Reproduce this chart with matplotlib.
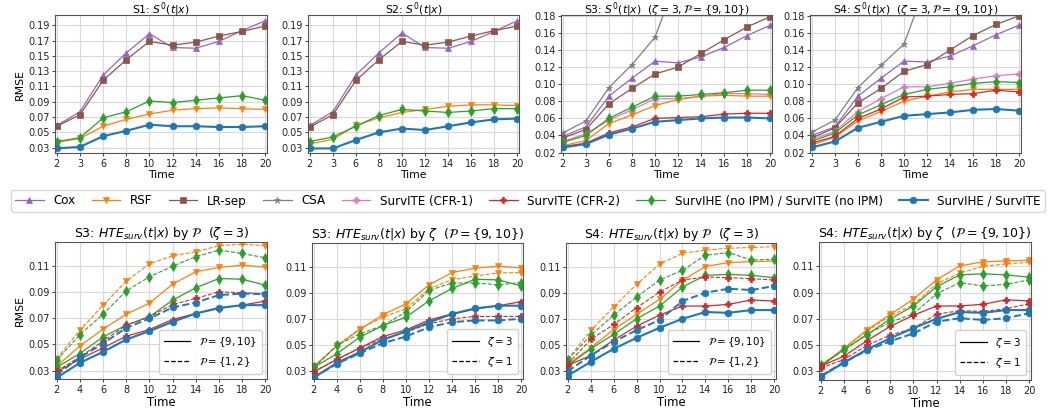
import matplotlib
matplotlib.use("Agg")
import matplotlib.pyplot as plt
from matplotlib.lines import Line2D

plt.rcParams['font.family'] = ['DejaVu Sans']
plt.rcParams['mathtext.fontset'] = 'dejavusans'

# ---------------- data ----------------
top_times = [2, 3, 6, 8, 10, 12, 14, 16, 18, 20]
bot_times = [2, 4, 6, 8, 10, 12, 14, 16, 18, 20]

methods = ["Cox", "RSF", "LR-sep", "CSA", "SurvITE (CFR-1)", "SurvITE (CFR-2)",
           "SurvIHE (no IPM) / SurvITE (no IPM)", "SurvIHE / SurvITE"]

# S1
s1_cox = [0.059, 0.077, 0.125, 0.154, 0.179, 0.161, 0.160, 0.169, 0.183, 0.196]
s1_rsf = [0.037, 0.042, 0.058, 0.067, 0.074, 0.079, 0.081, 0.082, 0.081, 0.080]
s1_lrsep = [0.058, 0.073, 0.118, 0.145, 0.169, 0.164, 0.168, 0.176, 0.182, 0.189]
s1_noipm = [0.038, 0.043, 0.069, 0.077, 0.091, 0.089, 0.092, 0.095, 0.098, 0.092]
s1_ours = [0.029, 0.031, 0.045, 0.052, 0.060, 0.058, 0.058, 0.057, 0.057, 0.058]

# S2
s2_cox = [0.059, 0.077, 0.125, 0.154, 0.180, 0.161, 0.160, 0.169, 0.182, 0.196]
s2_rsf = [0.035, 0.041, 0.059, 0.069, 0.076, 0.080, 0.084, 0.086, 0.086, 0.085]
s2_lrsep = [0.057, 0.073, 0.118, 0.145, 0.169, 0.164, 0.168, 0.176, 0.183, 0.189]
s2_noipm = [0.038, 0.044, 0.058, 0.072, 0.080, 0.078, 0.076, 0.078, 0.081, 0.081]
s2_ours = [0.029, 0.029, 0.040, 0.050, 0.055, 0.053, 0.058, 0.063, 0.067, 0.068]

# S3
s3_cox = [0.039, 0.050, 0.086, 0.107, 0.127, 0.125, 0.132, 0.143, 0.157, 0.169]
s3_rsf = [0.028, 0.034, 0.054, 0.064, 0.075, 0.082, 0.086, 0.087, 0.086, 0.086]
s3_lrsep = [0.037, 0.047, 0.077, 0.095, 0.112, 0.120, 0.136, 0.152, 0.167, 0.179]
s3_csa = [0.043, 0.057, 0.096, 0.123, 0.155, 0.227, 0.280, 0.320, 0.360, 0.400]
s3_cfr1 = [0.033, 0.042, 0.058, 0.070, 0.083, 0.083, 0.086, 0.089, 0.089, 0.088]
s3_cfr2 = [0.027, 0.031, 0.043, 0.050, 0.060, 0.061, 0.062, 0.065, 0.066, 0.066]
s3_noipm = [0.032, 0.040, 0.060, 0.073, 0.086, 0.086, 0.088, 0.090, 0.093, 0.093]
s3_ours = [0.026, 0.030, 0.041, 0.048, 0.056, 0.058, 0.060, 0.061, 0.061, 0.060]

# S4
s4_cox = [0.040, 0.050, 0.086, 0.107, 0.127, 0.126, 0.133, 0.145, 0.158, 0.169]
s4_rsf = [0.029, 0.038, 0.057, 0.068, 0.080, 0.086, 0.091, 0.094, 0.094, 0.094]
s4_lrsep = [0.037, 0.049, 0.078, 0.095, 0.115, 0.123, 0.140, 0.157, 0.170, 0.180]
s4_csa = [0.044, 0.058, 0.096, 0.122, 0.147, 0.220, 0.270, 0.310, 0.350, 0.390]
s4_cfr1 = [0.035, 0.045, 0.068, 0.083, 0.097, 0.097, 0.101, 0.106, 0.110, 0.112]
s4_cfr2 = [0.031, 0.039, 0.060, 0.071, 0.085, 0.086, 0.088, 0.089, 0.093, 0.091]
s4_noipm = [0.033, 0.043, 0.064, 0.076, 0.088, 0.094, 0.097, 0.101, 0.103, 0.102]
s4_ours = [0.026, 0.033, 0.049, 0.056, 0.063, 0.065, 0.067, 0.070, 0.071, 0.069]

# HTE, S3, zeta=3, P={9,10}
h3_rsf = [0.0333, 0.0489, 0.0617, 0.0732, 0.0816, 0.0962, 0.1057, 0.1090, 0.1107, 0.1092]
h3_noipm = [0.0325, 0.0430, 0.0558, 0.0648, 0.0712, 0.0839, 0.0934, 0.1005, 0.1000, 0.0954]
h3_cfr2 = [0.0290, 0.0387, 0.0474, 0.0563, 0.0614, 0.0691, 0.0737, 0.0775, 0.0801, 0.0832]
h3_ours = [0.0245, 0.0359, 0.0443, 0.0538, 0.0602, 0.0673, 0.0737, 0.0780, 0.0801, 0.0801]
# HTE, S3, zeta=3, P={1,2}
h3p_rsf = [0.0392, 0.0609, 0.0801, 0.0985, 0.1118, 0.1179, 0.1210, 0.1256, 0.1269, 0.1256]
h3p_noipm = [0.0379, 0.0576, 0.0732, 0.0911, 0.1018, 0.1100, 0.1172, 0.1223, 0.1197, 0.1164]
h3p_cfr2 = [0.0295, 0.0405, 0.0525, 0.0648, 0.0712, 0.0806, 0.0852, 0.0903, 0.0896, 0.0888]
h3p_ours = [0.0269, 0.0400, 0.0507, 0.0627, 0.0699, 0.0783, 0.0821, 0.0878, 0.0890, 0.0885]
# HTE, S3, zeta=1, P={9,10}
h3z_rsf = [0.0320, 0.0494, 0.0623, 0.0713, 0.0777, 0.0932, 0.1002, 0.1030, 0.1054, 0.1056]
h3z_noipm = [0.0326, 0.0494, 0.0584, 0.0648, 0.0752, 0.0919, 0.0976, 0.0976, 0.0963, 0.0979]
h3z_cfr2 = [0.0292, 0.0385, 0.0473, 0.0545, 0.0597, 0.0661, 0.0700, 0.0718, 0.0718, 0.0718]
h3z_ours = [0.0248, 0.0352, 0.0434, 0.0512, 0.0563, 0.0635, 0.0674, 0.0687, 0.0687, 0.0700]

# HTE, S4, zeta=3, P={9,10}
h4_rsf = [0.0346, 0.0475, 0.0617, 0.0734, 0.0850, 0.0997, 0.1103, 0.1134, 0.1141, 0.1146]
h4_noipm = [0.0339, 0.0468, 0.0579, 0.0700, 0.0798, 0.0945, 0.1035, 0.1043, 0.1035, 0.1017]
h4_cfr2 = [0.0340, 0.0416, 0.0535, 0.0643, 0.0728, 0.0798, 0.0798, 0.0811, 0.0845, 0.0837]
h4_ours = [0.0261, 0.0367, 0.0468, 0.0553, 0.0630, 0.0700, 0.0752, 0.0746, 0.0767, 0.0767]
# HTE, S4, zeta=3, P={1,2}
h4p_rsf = [0.0385, 0.0610, 0.0790, 0.0966, 0.1121, 0.1206, 0.1229, 0.1245, 0.1250, 0.1257]
h4p_noipm = [0.0385, 0.0571, 0.0728, 0.0868, 0.0999, 0.1074, 0.1190, 0.1211, 0.1154, 0.1159]
h4p_cfr2 = [0.0352, 0.0540, 0.0656, 0.0785, 0.0906, 0.0999, 0.1023, 0.1017, 0.1010, 0.0999]
h4p_ours = [0.0295, 0.0416, 0.0522, 0.0612, 0.0690, 0.0837, 0.0901, 0.0932, 0.0922, 0.0953]
# HTE, S4, zeta=1, P={9,10}
h4z_rsf = [0.0331, 0.0478, 0.0607, 0.0723, 0.0808, 0.0968, 0.1048, 0.1100, 0.1118, 0.1131]
h4z_noipm = [0.0349, 0.0460, 0.0584, 0.0674, 0.0739, 0.0891, 0.0976, 0.0950, 0.0963, 0.0997]
h4z_cfr2 = [0.0326, 0.0390, 0.0499, 0.0576, 0.0628, 0.0736, 0.0762, 0.0757, 0.0777, 0.0816]
h4z_ours = [0.0266, 0.0370, 0.0460, 0.0530, 0.0589, 0.0679, 0.0705, 0.0692, 0.0705, 0.0744]

# ---------------- styles ----------------
STY = {
    "Cox": dict(color="tab:purple", marker="^"),
    "RSF": dict(color="tab:orange", marker="v"),
    "LR-sep": dict(color="tab:brown", marker="s"),
    "CSA": dict(color="tab:gray", marker="*"),
    "SurvITE (CFR-1)": dict(color="tab:pink", marker="P"),
    "SurvITE (CFR-2)": dict(color="tab:red", marker="P"),
    "SurvIHE (no IPM) / SurvITE (no IPM)": dict(color="tab:green", marker="d"),
    "SurvIHE / SurvITE": dict(color="tab:blue", marker="o"),
}
LW = {"SurvIHE / SurvITE": 1.5}

TICK_FS = 7.0
LAB_FS = 7.8
TITLE_FS = 9.0
TOP_TITLE_FS = 7.8
MS = 4.8

W, H = 1050, 412
fig = plt.figure(figsize=(W / 100, H / 100), dpi=100)


def ax_at(left, top, right, bottom):
    return fig.add_axes([left / W, 1 - bottom / H, (right - left) / W, (bottom - top) / H])


def style_ax(ax):
    ax.grid(True, color="#d9d9d9", lw=0.8)
    ax.set_axisbelow(True)
    for s in ax.spines.values():
        s.set_color("#555555")
        s.set_linewidth(0.8)
    ax.tick_params(labelsize=TICK_FS, length=2.5, width=0.6, pad=1.5, colors="#222222")


def plot_series(ax, x, y, name, ls="-", lw=None):
    st = STY[name]
    w = lw if lw is not None else LW.get(name, 0.9)
    ax.plot(x, y, linestyle=ls, lw=w, color=st["color"], marker=st["marker"],
            markersize=MS, markeredgewidth=0.5, label=name)


top_specs = [
    ("S1: $S^0(t|x)$", {"Cox": s1_cox, "RSF": s1_rsf, "LR-sep": s1_lrsep,
                        "SurvIHE (no IPM) / SurvITE (no IPM)": s1_noipm, "SurvIHE / SurvITE": s1_ours},
     (0.023, 0.2035), [0.03, 0.05, 0.07, 0.09, 0.11, 0.13, 0.15, 0.17, 0.19], (55, 15, 267, 153)),
    ("S2: $S^0(t|x)$", {"Cox": s2_cox, "RSF": s2_rsf, "LR-sep": s2_lrsep,
                        "SurvIHE (no IPM) / SurvITE (no IPM)": s2_noipm, "SurvIHE / SurvITE": s2_ours},
     (0.023, 0.2035), [0.03, 0.05, 0.07, 0.09, 0.11, 0.13, 0.15, 0.17, 0.19], (308, 15, 519, 153)),
    ("S3: $S^0(t|x)$  $(\\zeta=3, \\mathcal{P}=\\{9,10\\})$",
     {"Cox": s3_cox, "RSF": s3_rsf, "LR-sep": s3_lrsep, "CSA": s3_csa, "SurvITE (CFR-1)": s3_cfr1,
      "SurvITE (CFR-2)": s3_cfr2, "SurvIHE (no IPM) / SurvITE (no IPM)": s3_noipm,
      "SurvIHE / SurvITE": s3_ours},
     (0.0195, 0.181), [0.02, 0.04, 0.06, 0.08, 0.10, 0.12, 0.14, 0.16, 0.18], (561, 15, 772, 153)),
    ("S4: $S^0(t|x)$  $(\\zeta=3, \\mathcal{P}=\\{9,10\\})$",
     {"Cox": s4_cox, "RSF": s4_rsf, "LR-sep": s4_lrsep, "CSA": s4_csa, "SurvITE (CFR-1)": s4_cfr1,
      "SurvITE (CFR-2)": s4_cfr2, "SurvIHE (no IPM) / SurvITE (no IPM)": s4_noipm,
      "SurvIHE / SurvITE": s4_ours},
     (0.0195, 0.181), [0.02, 0.04, 0.06, 0.08, 0.10, 0.12, 0.14, 0.16, 0.18], (810, 15, 1021, 153)),
]

plot_order = ["CSA", "Cox", "LR-sep", "SurvITE (CFR-1)", "RSF", "SurvIHE (no IPM) / SurvITE (no IPM)",
              "SurvITE (CFR-2)", "SurvIHE / SurvITE"]

for i, (title, series, ylim, yticks, box) in enumerate(top_specs):
    ax = ax_at(*box)
    style_ax(ax)
    idx = list(range(len(top_times)))
    for name in plot_order:
        if name in series:
            plot_series(ax, idx, series[name], name)
    ax.set_xticks(idx)
    ax.set_xticklabels([str(t) for t in top_times])
    ax.set_xlim(-0.08, len(top_times) - 1 + 0.08)
    ax.set_ylim(*ylim)
    ax.set_yticks(yticks)
    ax.set_yticklabels([f"{v:.2f}" for v in yticks])
    # title placed from the top edge of the figure so it stays inside the canvas
    xc = (box[0] + box[2]) / 2 / W
    fig.text(xc, 1 - 0.5 / H, title, ha="center", va="top", fontsize=TOP_TITLE_FS)
    ax.set_xlabel("Time", fontsize=LAB_FS, labelpad=1)
    if i == 0:
        ax.set_ylabel("RMSE", fontsize=LAB_FS, labelpad=2)

# ---------------- legend ----------------
handles = [Line2D([], [], color=STY[m]["color"], marker=STY[m]["marker"], lw=LW.get(m, 0.9),
                  markersize=MS, markeredgewidth=0.5) for m in methods]
fig.legend(handles, methods, loc="center left", bbox_to_anchor=(5 / W, 1 - 201 / H), ncol=8,
           fontsize=8.6, frameon=True, fancybox=True, edgecolor="#cccccc", handlelength=2.4,
           columnspacing=1.36, handletextpad=0.8, borderpad=0.35)

# ---------------- bottom row ----------------
bot_order = ["RSF", "SurvIHE (no IPM) / SurvITE (no IPM)", "SurvITE (CFR-2)", "SurvIHE / SurvITE"]

bot_specs = [
    ("S3: $HTE_{surv}(t|x)$ by $\\mathcal{P}$  $(\\zeta=3)$",
     [h3_rsf, h3_noipm, h3_cfr2, h3_ours], [h3p_rsf, h3p_noipm, h3p_cfr2, h3p_ours],
     ["$\\mathcal{P}=\\{9,10\\}$", "$\\mathcal{P}=\\{1,2\\}$"], (55, 242, 267, 379)),
    ("S3: $HTE_{surv}(t|x)$ by $\\zeta$  $(\\mathcal{P}=\\{9,10\\})$",
     [h3_rsf, h3_noipm, h3_cfr2, h3_ours], [h3z_rsf, h3z_noipm, h3z_cfr2, h3z_ours],
     ["$\\zeta=3$", "$\\zeta=1$"], (312, 243, 523, 379)),
    ("S4: $HTE_{surv}(t|x)$ by $\\mathcal{P}$  $(\\zeta=3)$",
     [h4_rsf, h4_noipm, h4_cfr2, h4_ours], [h4p_rsf, h4p_noipm, h4p_cfr2, h4p_ours],
     ["$\\mathcal{P}=\\{9,10\\}$", "$\\mathcal{P}=\\{1,2\\}$"], (566, 243, 776, 379)),
    ("S4: $HTE_{surv}(t|x)$ by $\\zeta$  $(\\mathcal{P}=\\{9,10\\})$",
     [h4_rsf, h4_noipm, h4_cfr2, h4_ours], [h4z_rsf, h4z_noipm, h4z_cfr2, h4z_ours],
     ["$\\zeta=3$", "$\\zeta=1$"], (819, 242, 1031, 380)),
]

bot_yticks = [0.03, 0.05, 0.07, 0.09, 0.11]
for i, (title, solid, dashed, labs, box) in enumerate(bot_specs):
    ax = ax_at(*box)
    style_ax(ax)
    for name, ys, yd in zip(bot_order, solid, dashed):
        plot_series(ax, bot_times, ys, name, ls="-")
        plot_series(ax, bot_times, yd, name, ls="--",
                    lw=1.4 if name == "SurvIHE / SurvITE" else 0.8)
    ax.set_xticks(bot_times)
    ax.set_xlim(1.85, 20.15)
    ax.set_ylim(0.0235, 0.1285)
    ax.set_yticks(bot_yticks)
    ax.set_yticklabels([f"{v:.2f}" for v in bot_yticks])
    ax.set_title(title, fontsize=TITLE_FS, pad=2)
    ax.set_xlabel("Time", fontsize=LAB_FS + 0.6, labelpad=1)
    if i == 0:
        ax.set_ylabel("RMSE", fontsize=LAB_FS, labelpad=2)
    lh = [Line2D([], [], color="black", lw=0.9, ls="-"), Line2D([], [], color="black", lw=0.9, ls="--")]
    ax.legend(lh, labs, loc="lower right", fontsize=7.4, handlelength=2.6, framealpha=0.9,
              edgecolor="#cccccc", borderpad=0.5, labelspacing=0.6)

fig.savefig("out.png", dpi=100, facecolor="white")
